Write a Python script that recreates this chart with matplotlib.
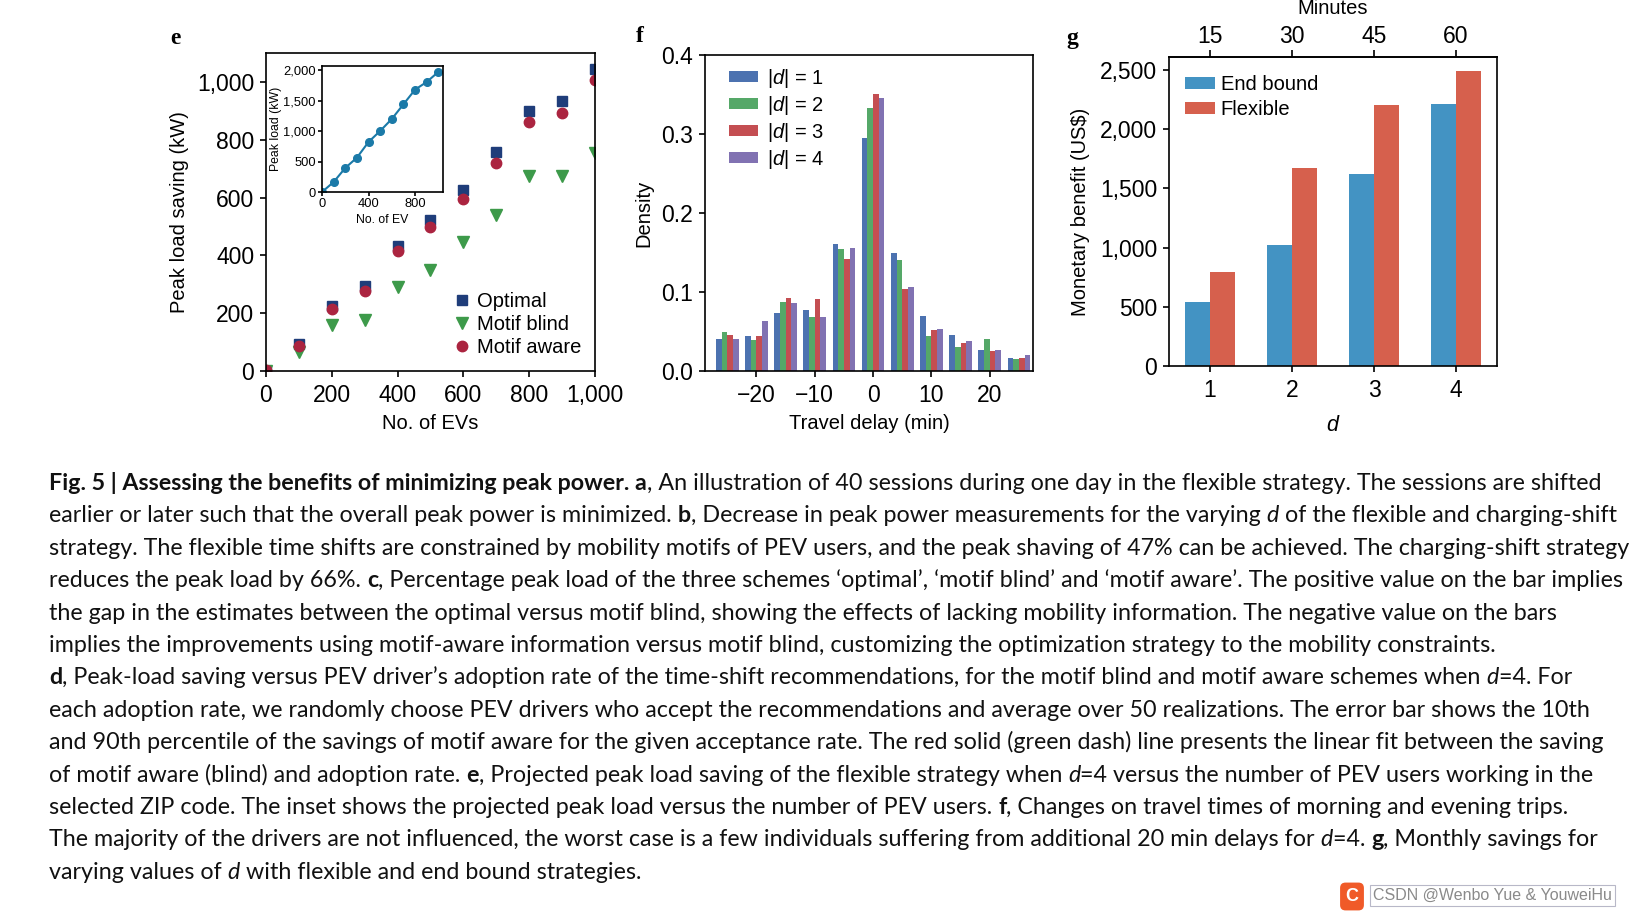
import numpy as np
import matplotlib
matplotlib.use('Agg')
import matplotlib.pyplot as plt
from matplotlib.ticker import StrMethodFormatter
from matplotlib.font_manager import FontProperties

plt.rcParams['font.family'] = 'Liberation Sans'
plt.rcParams['mathtext.fontset'] = 'custom'
plt.rcParams['mathtext.rm'] = 'Liberation Sans'
plt.rcParams['mathtext.it'] = 'Liberation Sans:italic'
plt.rcParams['axes.linewidth'] = 1.2
plt.rcParams['xtick.major.width'] = 1.2
plt.rcParams['ytick.major.width'] = 1.2
plt.rcParams['xtick.major.size'] = 4
plt.rcParams['ytick.major.size'] = 4
plt.rcParams['xtick.major.pad'] = 5.5
plt.rcParams['ytick.major.pad'] = 4.5

# --- panel e: peak load saving vs number of EVs
n_ev = [0, 100, 200, 300, 400, 500, 600, 700, 800, 900, 1000]
optimal = [0, 92, 225, 295, 432, 523, 627, 758, 901, 935, 1043]
motif_blind = [0, 66, 158, 176, 289, 349, 445, 541, 676, 676, 754]
motif_aware = [2, 87, 213, 277, 415, 499, 595, 720, 860, 892, 1006]
inset_peak = [0, 164, 395, 564, 822, 1003, 1200, 1441, 1682, 1808, 1973]

# --- panel f: travel delay density
delay_bins = [-25, -20, -15, -10, -5, 0, 5, 10, 15, 20, 25]
density_d1 = [0.041, 0.044, 0.074, 0.077, 0.161, 0.295, 0.149, 0.069, 0.045, 0.026, 0.017]
density_d2 = [0.049, 0.039, 0.087, 0.068, 0.154, 0.333, 0.140, 0.044, 0.031, 0.041, 0.015]
density_d3 = [0.046, 0.044, 0.093, 0.091, 0.142, 0.351, 0.104, 0.052, 0.036, 0.025, 0.017]
density_d4 = [0.040, 0.063, 0.086, 0.068, 0.156, 0.345, 0.106, 0.053, 0.038, 0.027, 0.020]
d_labels = ['|$d$| = 1', '|$d$| = 2', '|$d$| = 3', '|$d$| = 4']

# --- panel g: monetary benefit
d_vals = [1, 2, 3, 4]
minute_ticks = [15, 30, 45, 60]
end_bound = [538, 1019, 1619, 2210]
flexible = [791, 1669, 2201, 2489]

caption = [
    [("Fig. 5 | Assessing the benefits of minimizing peak power. a", 'b'),
     (", An illustration of 40 sessions during one day in the flexible strategy. The sessions are shifted", 'n')],
    [("earlier or later such that the overall peak power is minimized. ", 'n'), ("b", 'b'),
     (", Decrease in peak power measurements for the varying ", 'n'), ("d", 'i'),
     (" of the flexible and charging-shift", 'n')],
    [("strategy. The flexible time shifts are constrained by mobility motifs of PEV users, and the peak shaving of 47% can be achieved. The charging-shift strategy", 'n')],
    [("reduces the peak load by 66%. ", 'n'), ("c", 'b'),
     (", Percentage peak load of the three schemes \u2018optimal\u2019, \u2018motif blind\u2019 and \u2018motif aware\u2019. The positive value on the bar implies", 'n')],
    [("the gap in the estimates between the optimal versus motif blind, showing the effects of lacking mobility information. The negative value on the bars", 'n')],
    [("implies the improvements using motif-aware information versus motif blind, customizing the optimization strategy to the mobility constraints.", 'n')],
    [("d", 'b'), (", Peak-load saving versus PEV driver\u2019s adoption rate of the time-shift recommendations, for the motif blind and motif aware schemes when ", 'n'),
     ("d", 'i'), ("=4. For", 'n')],
    [("each adoption rate, we randomly choose PEV drivers who accept the recommendations and average over 50 realizations. The error bar shows the 10th", 'n')],
    [("and 90th percentile of the savings of motif aware for the given acceptance rate. The red solid (green dash) line presents the linear fit between the saving", 'n')],
    [("of motif aware (blind) and adoption rate. ", 'n'), ("e", 'b'),
     (", Projected peak load saving of the flexible strategy when ", 'n'), ("d", 'i'),
     ("=4 versus the number of PEV users working in the", 'n')],
    [("selected ZIP code. The inset shows the projected peak load versus the number of PEV users. ", 'n'), ("f", 'b'),
     (", Changes on travel times of morning and evening trips.", 'n')],
    [("The majority of the drivers are not influenced, the worst case is a few individuals suffering from additional 20 min delays for ", 'n'),
     ("d", 'i'), ("=4. ", 'n'), ("g", 'b'), (", Monthly savings for", 'n')],
    [("varying values of ", 'n'), ("d", 'i'), (" with flexible and end bound strategies.", 'n')],
]

W, H = 1640, 913
fs = 14.5     # axis labels / legends
tfs = 16.5    # tick labels


def box(l, t, r, b):
    return [l / W, 1 - b / H, (r - l) / W, (b - t) / H]


def style_ax(ax):
    ax.tick_params(labelsize=tfs, direction='out')
    ax.tick_params(top=False, right=False)


fig = plt.figure(figsize=(W / 100, H / 100), dpi=100)

# ---------------- e
ax1 = fig.add_axes(box(266, 53, 595, 371))
ax1.plot(n_ev, optimal, 's', color='#1f3d7a', ms=7.5, label='Optimal')
ax1.plot(n_ev, motif_blind, 'v', color='#3d9a4a', ms=8, label='Motif blind')
ax1.plot(n_ev, motif_aware, 'o', color='#ab2440', ms=7.5, label='Motif aware')
ax1.set_xlim(0, 1000)
ax1.set_ylim(0, 1100)
ax1.set_xticks([0, 200, 400, 600, 800, 1000])
ax1.set_yticks([0, 200, 400, 600, 800, 1000])
ax1.xaxis.set_major_formatter(StrMethodFormatter('{x:,.0f}'))
ax1.yaxis.set_major_formatter(StrMethodFormatter('{x:,.0f}'))
ax1.set_xlabel('No. of EVs', fontsize=fs, labelpad=5)
ax1.set_ylabel('Peak load saving (kW)', fontsize=fs, labelpad=6)
style_ax(ax1)
ax1.legend(loc='lower right', frameon=False, fontsize=fs, handletextpad=0.2,
           labelspacing=0.2, borderaxespad=0.3, handlelength=1.0)

axi = fig.add_axes(box(322, 66, 443, 192))
axi.plot(n_ev, inset_peak, '-o', color='#1b7aa8', ms=5.5, lw=1.5)
axi.set_xlim(0, 1040)
axi.set_ylim(0, 2070)
axi.set_xticks([0, 400, 800])
axi.set_yticks([0, 500, 1000, 1500, 2000])
axi.yaxis.set_major_formatter(StrMethodFormatter('{x:,.0f}'))
axi.tick_params(labelsize=9.3, length=3, pad=1.5)
axi.set_xlabel('No. of EV', fontsize=8.8, labelpad=3)
axi.set_ylabel('Peak load (kW)', fontsize=8.8, labelpad=1)

# ---------------- f
ax2 = fig.add_axes(box(705, 55, 1033, 371))
colors_f = ['#4c72b0', '#55a868', '#c44e52', '#8172b2']
bw = 0.97
for k, dens in enumerate([density_d1, density_d2, density_d3, density_d4]):
    ax2.bar(np.array(delay_bins) + (k - 1.5) * bw, dens, bw, color=colors_f[k], label=d_labels[k])
ax2.set_xlim(-28.8, 27.4)
ax2.set_ylim(0, 0.4)
ax2.set_xticks([-20, -10, 0, 10, 20])
ax2.set_yticks([0.0, 0.1, 0.2, 0.3, 0.4])
ax2.yaxis.set_major_formatter(StrMethodFormatter('{x:.1f}'))
ax2.set_xlabel('Travel delay (min)', fontsize=fs, labelpad=5)
ax2.set_ylabel('Density', fontsize=fs, labelpad=6)
style_ax(ax2)
ax2.legend(loc='upper left', bbox_to_anchor=(0.019, 1.02), frameon=False, fontsize=fs,
           handlelength=1.4, handleheight=0.5, handletextpad=0.45, labelspacing=0.2,
           borderaxespad=0.5)

# ---------------- g
ax3 = fig.add_axes(box(1169, 57, 1497, 366))
ax3.bar(np.array(d_vals) - 0.15, end_bound, 0.3, color='#4393c3', label='End bound')
ax3.bar(np.array(d_vals) + 0.15, flexible, 0.3, color='#d6604d', label='Flexible')
ax3.set_xlim(0.5, 4.5)
ax3.set_ylim(0, 2610)
ax3.set_xticks(d_vals)
ax3.set_yticks([0, 500, 1000, 1500, 2000, 2500])
ax3.yaxis.set_major_formatter(StrMethodFormatter('{x:,.0f}'))
ax3.set_xlabel('$d$', fontsize=fs + 1, labelpad=9)
ax3.set_ylabel('Monetary benefit (US\\$)', fontsize=fs, labelpad=7)
style_ax(ax3)
sec = ax3.secondary_xaxis('top', functions=(lambda d: d * 15, lambda m: m / 15))
sec.set_xticks(minute_ticks)
sec.tick_params(labelsize=tfs, direction='out', length=5, pad=1.5)
sec.set_xlabel('Minutes', fontsize=fs, labelpad=8)
ax3.legend(loc='upper left', bbox_to_anchor=(-0.005, 1.0), frameon=False, fontsize=fs,
           handlelength=1.45, handleheight=0.5, handletextpad=0.3, labelspacing=0.3,
           borderaxespad=0.5)

# panel letters
for x, y, s in [(175, 44, 'e'), (640, 42, 'f'), (1072, 44, 'g')]:
    fig.text(x / W, 1 - y / H, s, family='Liberation Serif', weight='bold', fontsize=17,
             ha='center', va='baseline')

# ---------------- caption
r = fig.canvas.get_renderer()


def prop_for(st, size):
    return FontProperties(family='Lato', size=size,
                          weight='bold' if st == 'b' else 'normal',
                          style='italic' if st == 'i' else 'normal')


def seg_width(txt, prop):
    w1 = r.get_text_width_height_descent('|' + txt + '|', prop, ismath=False)[0]
    w0 = r.get_text_width_height_descent('||', prop, ismath=False)[0]
    return w1 - w0


base = sum(seg_width(t, prop_for(st, 10)) for t, st in caption[2])
cap_size = 10 * 1578 / base

x0, y0, dy = 49, 490, 32.4
for i, segs in enumerate(caption):
    x = x0
    y = y0 + i * dy
    for txt, st in segs:
        p = prop_for(st, cap_size)
        fig.text(x / W, 1 - y / H, txt, fontproperties=p, ha='left', va='baseline', color='#111111')
        x += seg_width(txt, p)

# watermark
fig.text(1352 / W, 1 - 901 / H, 'C', fontsize=13, weight='bold', color='white', ha='center',
         va='baseline', bbox=dict(boxstyle='round,pad=0.3', facecolor='#f05a28', edgecolor='none'))
fig.text(1373 / W, 1 - 900 / H, 'CSDN @Wenbo Yue & YouweiHu', fontsize=11.5, color='#8a8a8a',
         ha='left', va='baseline',
         bbox=dict(facecolor='none', edgecolor='#b8b8c8', lw=0.8, pad=2))

fig.savefig('out.png', dpi=100)
